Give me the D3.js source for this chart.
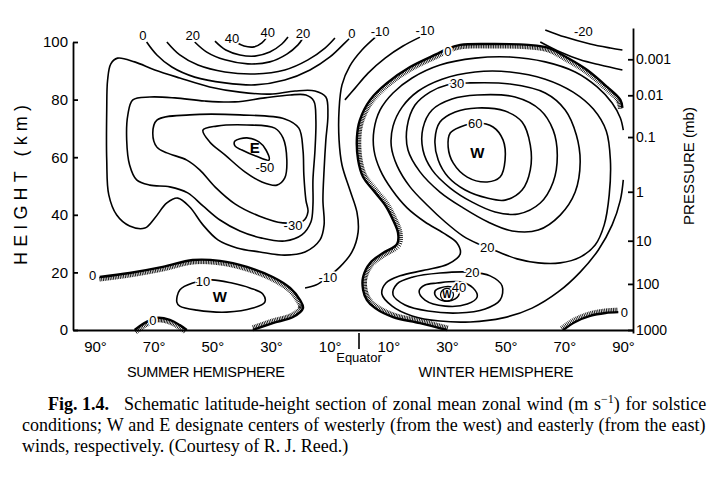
<!DOCTYPE html>
<html><head><meta charset="utf-8">
<script src="https://cdn.jsdelivr.net/npm/d3@7"></script>
<style>body{margin:0;background:#fff}svg{display:block}</style>
</head><body>
<svg id="c" width="725" height="485"></svg>
<script>
// ---------- tick data ----------
const heightTicks = [0, 20, 40, 60, 80, 100];
const latTicks = [-90, -70, -50, -30, -10, 10, 30, 50, 70, 90];
const latLabels = ["90°", "70°", "50°", "30°", "10°", "10°", "30°", "50°", "70°", "90°"];
const pressureLabels = ["0.001", "0.01", "0.1", "1", "10", "100", "1000"];
const pressureKm = [94, 81.5, 67, 48, 31, 16, 0];

// ---------- contour data: [latitude (neg = summer), height km] ----------
// summer upper-mesosphere westerlies (open arcs)
const sArc40 = [[-42.0,100],[-39.2,98.6],[-35.8,98.3],[-33.1,99.7],[-31.4,101.7]];
const sArc30 = [[-49.1,100.3],[-45.4,97.2],[-40.6,95.5],[-35.5,95.1],[-30.4,96.5],[-26.3,99.3],[-24.2,101.7]];
const sArc20 = [[-56,100],[-51.9,96.5],[-45.7,93.8],[-37.9,92.4],[-30.4,93.1],[-24.6,95.8],[-20.8,99],[-19.1,101.4]];
const sArc10 = [[-65.5,100],[-61.1,95.5],[-54.9,92],[-45.7,89.6],[-35.5,88.9],[-25.3,90.3],[-17.4,93.8],[-11.6,97.9],[-8.2,101.4]];
const sArc0 = [[-72.4,100],[-68.9,95.5],[-63.8,91.3],[-56,87.8],[-45.7,85.8],[-35.5,85.1],[-25.3,86.8],[-16.7,90.3],[-9.9,94.8],[-4.8,99.7],[-3.1,101.4]];
// summer easterly loops
const sEast10 = [[-84.6,92.4],[-82.3,94.4],[-76.5,93.1],[-69.6,90.3],[-61.1,87.5],[-50.9,84.4],[-40.6,82.6],[-30.4,81.9],[-21.8,83],[-15,83],[-11.3,80.9],[-10.6,74.7],[-11.3,66],[-11.9,55.6],[-12.3,45.1],[-11.9,36.5],[-13.3,31.3],[-18.4,27.1],[-25.3,26],[-33.8,27.1],[-41.6,28.5],[-48.1,31.3],[-53.2,36.5],[-57.7,42.7],[-61.8,45.8],[-65.5,44.1],[-69.6,38.9],[-73,35.4],[-78.2,36.1],[-82.6,39.9],[-85.3,46.9],[-86,59],[-86,76.4],[-85.7,86.8]];
const sEast20 = [[-77.1,79.9],[-71.3,80.9],[-62.8,80.6],[-52.6,79.5],[-42.3,79.2],[-32.1,80.6],[-23.5,81.6],[-18.1,81.6],[-15.4,79.5],[-14.7,72.9],[-15,62.5],[-15.7,52.1],[-15.7,43.4],[-16.4,37.5],[-19.5,33],[-25.3,30.9],[-33.1,31.9],[-40.6,34.4],[-47.4,38.2],[-53.2,43.1],[-58.4,47.6],[-64.5,49.7],[-71.3,50.3],[-75.8,52.1],[-78.2,57.3],[-79.2,66],[-78.8,74.7]];
const sEast30 = [[-68.9,72.9],[-57.7,74.7],[-40.6,74.7],[-25.3,73.3],[-20.5,70.1],[-19.1,62.5],[-18.8,53.8],[-18.1,45.1],[-17.4,41],[-19.1,37.8],[-26,37.2],[-34.1,39.6],[-42.3,43.8],[-49.1,49.7],[-54.3,55.6],[-58.7,59],[-65.5,61.5],[-68.9,63.5],[-70.3,68.4]];
const sEast40 = [[-53.2,69.4],[-48.5,70.8],[-38.2,71.2],[-28.7,70.1],[-25.9,66.7],[-24.6,59],[-25.3,52.8],[-28,50.3],[-33.1,51.4],[-38.9,54.9],[-45.7,60.8],[-50.9,65.3]];
const sEast50 = [[-42.3,65.6],[-38.2,66.7],[-34.1,65.3],[-31.7,62.5],[-30.7,59],[-35.2,60.4],[-39.9,62.5],[-42.3,63.9]];
// equatorial -10 lines
const eqMinus10a = [[6.1,102.1],[1,97.2],[-3.1,91.7],[-5.8,85.1],[-6.8,76.4],[-6.8,66],[-5.8,57.3],[-3.1,48.6],[-0.7,40.9],[-0.3,34],[-2.4,27.1],[-6.5,21.9],[-10.6,18.4],[-14.7,15.6],[-18.4,14.6]];
const eqMinus10b = [[20.8,101.7],[15,98.6],[8.9,94.4],[3.1,89.2],[-1.4,83.9],[-4.8,79.9]];
// zero-wind lines (hatched)
const zeroWinter = [[89.8,77.1],[89.1,79.9],[84.6,84.4],[77.8,90.3],[70.6,94.8],[64.8,97.9],[57.7,99],[45.7,99.3],[34.5,99],[30,97.6],[27.3,96.2],[17.4,91.3],[9.6,85.8],[3.8,79.9],[0.3,72.9],[-0.7,67],[-0.3,59],[1.4,53.1],[4.8,48.6],[8.9,43.4],[11.6,38.2],[13.3,33.7],[13,29.9],[8.2,26.7],[3.8,23.3],[1.4,18.4],[1.4,13.9],[2.7,10.4],[5.5,7.6],[11.6,4.5],[20.8,2.4],[30,0]];
const zeroSummer = [[-88.4,18.4],[-78.2,19.8],[-66.9,21.9],[-56.7,24.3],[-47.4,24],[-38.2,21.9],[-29.4,18.4],[-23.5,14.6],[-20.1,10.4],[-19.1,7.6],[-22.5,4.5],[-29.4,2.4],[-36.2,0]];
const zeroSummerPolar = [[-76.5,0],[-72.4,2.8],[-68.9,4.2],[-64.5,3.5],[-61.1,1.7],[-58.7,0]];
const zeroWinterPolar = [[69.6,0],[73.7,2.8],[78.8,4.9],[84,5.9],[88.4,6.2]];
// summer tropospheric westerly jet
const sJet10 = [[-62.1,9.7],[-61.1,13.9],[-56.7,16.3],[-50.2,17.4],[-43.3,16.3],[-37.2,14.6],[-32.8,12.5],[-32.1,9.7],[-36.2,7.6],[-45.1,6.2],[-55.3,6.9],[-61.1,8.3]];
// winter westerlies
const w10 = [[90.1,69.4],[89.1,73.6],[86.3,78.8],[81.2,84.4],[73.7,89.6],[63.5,93.1],[51.5,94.8],[39.6,94.4],[27.6,92],[18.1,87.5],[11.6,82.3],[7.2,76.4],[5.1,69.4],[5.1,62.5],[7.2,55.6],[11.3,48.6],[16.4,42.4],[22.5,37.5],[28.7,33.7],[33.4,30.2],[34.5,26.4],[30.4,22.9],[22.5,20.8],[14,18.8],[9.2,16.3],[7.8,12.5],[11.3,8.3],[18.1,4.9],[27.6,3.1],[37.9,2.8],[49.1,4.2],[59,7.6],[67.9,13.2],[75.4,20.1],[81.6,27.8],[86.3,36.5],[89.1,45.1],[90.1,52.1]];
const w20 = [[40.6,29.9],[35.5,32.6],[29.4,37.5],[23.2,43.4],[17.4,49.7],[13,57],[11,63.9],[11.6,70.8],[14.7,77.4],[20.1,82.9],[28.3,87.1],[39.6,89.6],[51.5,89.6],[63.5,87.1],[73,82.6],[79.9,76.7],[84.3,69.1],[85.7,59],[85.3,46.9],[83.6,36.5],[80.5,29.5],[75.4,25.3],[68.6,23.3],[61.1,23.3],[53.9,24.7],[46.8,27.4]];
const w30 = [[37.9,85.8],[51.5,85.4],[63.5,82.3],[70.3,76.4],[74.1,67.7],[75.4,58.3],[73.7,47.9],[68.6,39.9],[61.1,34.7],[52.2,34.4],[44,37.5],[35.5,42.4],[27.6,47.9],[20.8,54.9],[16.7,62.5],[16.4,70.5],[19.1,78.1],[24.2,82.6],[30,85.1]];
const w40 = [[40.3,81.6],[53.2,80.9],[61.8,76.4],[66.2,69.4],[67.6,60.8],[66.2,51.4],[61.8,44.1],[54.3,40.3],[46.4,41],[38.6,44.4],[31.1,49.3],[24.9,55.6],[21.8,62.5],[21.8,70.1],[24.9,76.4],[31.7,80.2]];
const w50 = [[40.3,77.1],[49.8,76],[55.6,72.2],[58.4,64.2],[58.4,55.6],[55.6,48.6],[49.8,45.1],[43.7,45.8],[36.2,48.6],[30.4,53.1],[27,59],[25.9,66],[27.6,72.2],[32.8,75.7]];
const w60 = [[31.1,68.4],[34.5,70.5],[40.3,71.9],[45.7,70.5],[49.1,66],[49.8,59],[48.1,53.1],[43.7,51.4],[36.9,53.1],[32.1,58],[30.4,63.5]];
const wJet20 = [[37.9,20.1],[44.7,18.8],[48.8,15.3],[48.1,10.4],[43,7.3],[33.8,5.9],[23.5,6.6],[15.7,8.7],[11.6,12.2],[13,16],[18.4,18.4],[27.6,19.8]];
const wJet30 = [[26.6,16.3],[34.5,16.7],[38.9,14.6],[40.3,11.5],[36.9,9],[29.4,8.3],[22.5,10.4],[20.5,13.5],[22.5,15.6]];
const wJet40 = [[27.6,14.6],[31.7,14.9],[34.1,12.8],[32.8,10.8],[29,10.1],[26.3,11.5],[25.9,13.5]];
// winter upper easterlies
const wTopMinus20 = [[63.5,104.2],[70.3,101.7],[78.8,99.3],[85.7,97.9],[89.8,97.2]];
const wTopMinus10 = [[61.8,100],[68.6,96.5],[75.4,93.8],[82.3,92],[89.8,90.3]];

// contour value labels and centre letters: [text, lat, km]
const contourLabels = [
  ["0",-73.7,102.4],["20",-56.7,102.4],["40",-43.3,101.4],["40",-31.1,103.5],["20",-19.1,103.1],["0",-2.4,103.1],
  ["-10",7.2,103.8],["-10",22.5,104.2],["-20",76.5,103.8],["0",30.3,96.9],["30",33.4,85.8],["60",39.6,71.9],
  ["-50",-32.1,56.6],["-30",-22.5,36.5],["-10",-10.6,18.4],["0",-90.8,19.1],["10",-53.2,17],["0",-70.3,3.5],
  ["20",43.7,28.8],["20",38.6,20.1],["40",34.1,14.9],["0",90.5,6.2]
];
const centreLabels = [["E",-35.5,63.2,15],["W",40.3,61.5,15],["W",-47.4,11.5,15],["W",30,12.2,10]];

// ---------- drawing ----------
const svg = d3.select("#c");
const x = d3.scaleLinear().domain([-90, 90]).range([95, 623]);
const y = d3.scaleLinear().domain([0, 100]).range([330, 42]);
const openLine = d3.line().x(d => x(d[0])).y(d => y(d[1])).curve(d3.curveCatmullRom.alpha(0.5));
const closedLine = d3.line().x(d => x(d[0])).y(d => y(d[1])).curve(d3.curveCatmullRomClosed.alpha(0.5));

const gC = svg.append("g").attr("fill", "none").attr("stroke", "#000");

const thin = [
  [sArc40,false],[sArc30,false],[sArc20,false],[sArc10,false],[sArc0,false],
  [sEast10,true],[sEast20,true],[sEast30,true],[sEast40,true],[sEast50,true],
  [eqMinus10a,false],[eqMinus10b,false],[sJet10,true],
  [w10,false],[w20,true],[w30,true],[w40,true],[w50,true],[w60,true],
  [wJet20,true],[wJet30,true],[wJet40,true],[wTopMinus20,false],[wTopMinus10,false]
];
thin.forEach(([pts, closed]) => {
  gC.append("path").attr("d", (closed ? closedLine : openLine)(pts)).attr("stroke-width", 1.6);
});

function hatch(node, side, len) {
  const L = node.getTotalLength();
  let d = "";
  for (let s = 0; s <= L; s += 1.7) {
    const p = node.getPointAtLength(s);
    const q = node.getPointAtLength(Math.min(L, s + 0.6));
    const r = node.getPointAtLength(Math.max(0, s - 0.6));
    let tx = q.x - r.x, ty = q.y - r.y;
    const n = Math.hypot(tx, ty) || 1; tx /= n; ty /= n;
    const nx = -ty * side, ny = tx * side;
    d += "M" + p.x.toFixed(2) + "," + p.y.toFixed(2) + "L" + (p.x + nx * len).toFixed(2) + "," + (p.y + ny * len).toFixed(2);
  }
  gC.append("path").attr("d", d).attr("stroke-width", 0.9);
}
[[zeroWinter,-1],[zeroSummer,1],[zeroSummerPolar,1],[zeroWinterPolar,-1]].forEach(([pts, side]) => {
  const p = gC.append("path").attr("d", openLine(pts)).attr("stroke-width", 2.4);
  hatch(p.node(), side, 4.5);
});

// labels on contours (white halo breaks the line)
const gL = svg.append("g").attr("font-family", "Liberation Sans, Arial, sans-serif").attr("text-anchor", "middle");
gL.selectAll("text.cl").data(contourLabels).join("text").attr("class", "cl")
  .attr("x", d => x(d[1])).attr("y", d => y(d[2])).attr("dy", "0.36em")
  .attr("font-size", 13).attr("stroke", "#fff").attr("stroke-width", 3.5)
  .attr("paint-order", "stroke").attr("fill", "#000").text(d => d[0]);
gL.selectAll("text.cc").data(centreLabels).join("text").attr("class", "cc")
  .attr("x", d => x(d[1])).attr("y", d => y(d[2])).attr("dy", "0.36em")
  .attr("font-size", d => d[3]).attr("font-weight", "bold").attr("fill", "#000").text(d => d[0]);
// small circle around the lower winter W
gC.append("circle").attr("cx", x(30)).attr("cy", y(12.2)).attr("r", 6.5).attr("stroke-width", 1.2);

// ---------- axes ----------
const axisFont = "Liberation Sans, Arial, sans-serif";
const yLeft = svg.append("g").attr("transform", "translate(73,0)")
  .call(d3.axisLeft(y).tickValues(heightTicks).tickSizeInner(-5).tickSizeOuter(0).tickPadding(5));
yLeft.selectAll("text").attr("font-size", 15).attr("font-family", axisFont).attr("fill", "#000");
yLeft.selectAll("line,path").attr("stroke", "#000").attr("stroke-width", 1.8);

const yR = y.copy().domain([y.invert(333), y.invert(28)]).range([333, 28]);
const yRight = svg.append("g").attr("transform", "translate(633,0)")
  .call(d3.axisRight(yR).tickValues(pressureKm).tickFormat((d, i) => pressureLabels[i]).tickSizeInner(-5).tickSizeOuter(0).tickPadding(3));
yRight.selectAll("text").attr("font-size", 14).attr("font-family", axisFont).attr("fill", "#000");
yRight.selectAll("line,path").attr("stroke", "#000").attr("stroke-width", 1.8);

const xB = x.copy().domain([x.invert(73), x.invert(633)]).range([73, 633]);
const xAx = svg.append("g").attr("transform", "translate(0,330)")
  .call(d3.axisBottom(xB).tickValues(latTicks).tickFormat((d, i) => latLabels[i]).tickSize(0).tickPadding(11));
xAx.selectAll("text").attr("font-size", 15).attr("font-family", axisFont).attr("fill", "#000");
xAx.selectAll("path").attr("stroke", "#000").attr("stroke-width", 1.8);
// equator marker
svg.append("line").attr("x1", x(0)).attr("x2", x(0)).attr("y1", 333).attr("y2", 349).attr("stroke", "#000").attr("stroke-width", 1.6);
svg.append("text").attr("x", x(0)).attr("y", 362).attr("text-anchor", "middle").attr("font-family", axisFont).attr("font-size", 13).text("Equator");

// axis titles
function title(txt, tx, ty, len, rot, size) {
  svg.append("text").attr("transform", `translate(${tx},${ty}) rotate(${rot})`).attr("text-anchor", "middle")
    .attr("font-family", axisFont).attr("font-size", size).attr("textLength", len).attr("lengthAdjust", "spacing").text(txt);
}
title("HEIGHT (km)", 27, 185, 160, -90, 18);
title("PRESSURE (mb)", 694, 166, 118, -90, 15);
title("SUMMER HEMISPHERE", 206, 377, 158, 0, 14.5);
title("WINTER HEMISPHERE", 496, 377, 155, 0, 14.5);

// ---------- caption ----------
const cap = svg.append("g").attr("font-family", "Liberation Serif, Times New Roman, serif").attr("font-size", 18).attr("fill", "#000");
cap.append("text").attr("x", 48).attr("y", 410).attr("font-weight", "bold").text("Fig. 1.4.");
const l1 = cap.append("text").attr("x", 124).attr("y", 410);
l1.append("tspan").text("Schematic latitude-height section of zonal mean zonal wind (m s");
l1.append("tspan").attr("dy", -7).attr("font-size", 12).text("−1");
l1.append("tspan").attr("dy", 7).text(") for solstice");
const l2 = cap.append("text").attr("x", 22).attr("y", 431).text("conditions; W and E designate centers of westerly (from the west) and easterly (from the east)");
cap.append("text").attr("x", 22).attr("y", 452).text("winds, respectively. (Courtesy of R. J. Reed.)");
function justify(t, x0, x1, spaces) {
  const w = t.node().getComputedTextLength();
  t.attr("word-spacing", ((x1 - x0) - w) / spaces);
}
justify(l1, 124, 705, 10);
justify(l2, 22, 705, 14);
</script>
</body></html>
